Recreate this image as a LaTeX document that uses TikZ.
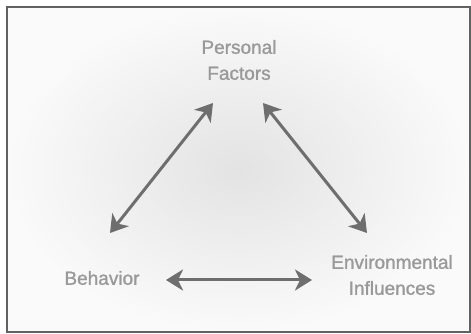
\documentclass[tikz,border=0pt]{standalone}
\usepackage{fontspec}
\setmainfont{Liberation Sans}
\newfontfamily\factorfont{Liberation Sans}[FakeBold=1.2]
\usetikzlibrary{arrows.meta}

\begin{document}
\begin{tikzpicture}[x=1pt, y=1pt,
    % Styles
    factor/.style={text=black!40, font=\factorfont\fontsize{19}{26}\selectfont, align=center, inner sep=0pt},
    link/.style={{Stealth[length=17pt, width=21pt, inset=5pt]}-{Stealth[length=17pt, width=21pt, inset=5pt]}, line width=3pt, black!57},
]
\useasboundingbox (0,0) rectangle (471,334);

% Background and frame
\shade[inner color=black!11, outer color=black!2] (7,2) rectangle (470,327);
\draw[black!62, line width=2.5pt] (7,2) rectangle (470,327);

% Factors
\node[factor] (personal) at (239, 274) {Personal\\Factors};
\node[factor] (behavior) at (102, 56) {Behavior};
\node[factor] (environ) at (392, 59) {Environmental\\Influences};

% Reciprocal links
\draw[link] ([shift={(8,45)}]behavior.center) -- ([shift={(-26,-43)}]personal.center);
\draw[link] ([shift={(24,-43)}]personal.center) -- ([shift={(-25,42)}]environ.center);
\draw[link] ([shift={(64,-2)}]behavior.center) -- ([shift={(-80,-5)}]environ.center);

\end{tikzpicture}
\end{document}
